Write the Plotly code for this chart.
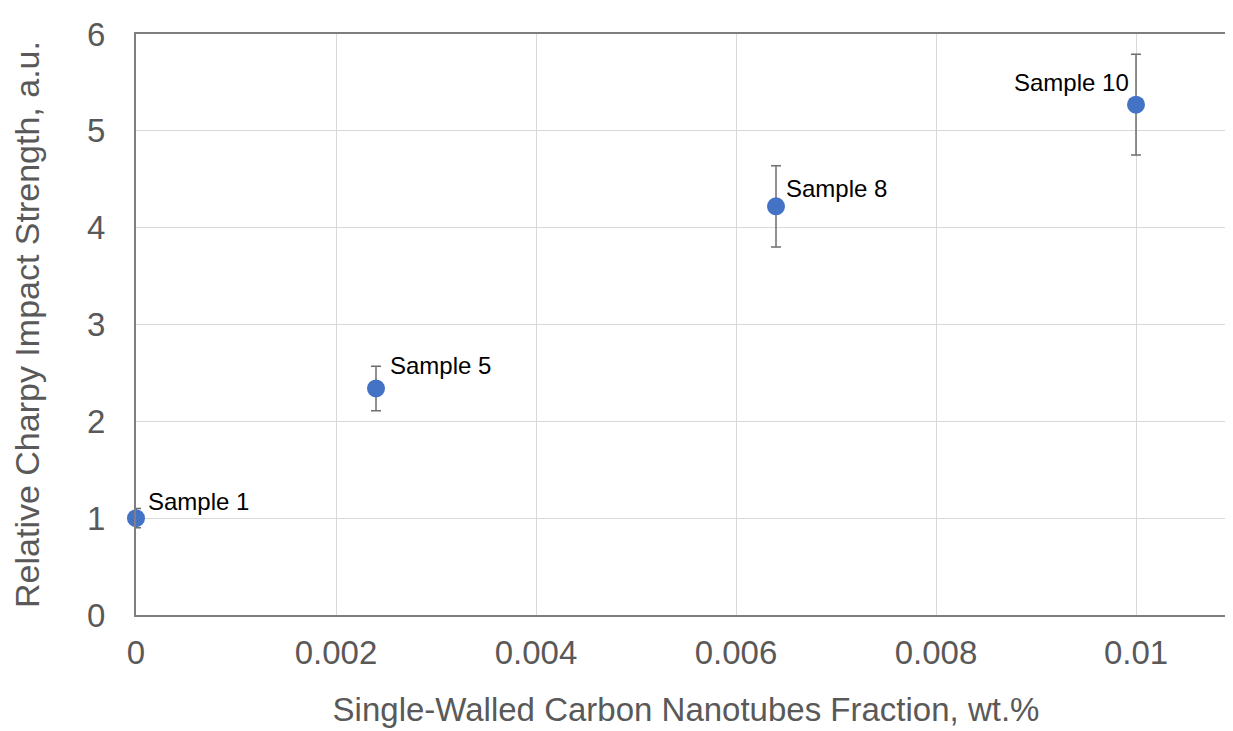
import plotly.graph_objects as go

# Data
fraction = [0.0, 0.0024, 0.0064, 0.01]
strength = [1.0, 2.34, 4.22, 5.27]
err = [0.1, 0.23, 0.42, 0.52]
labels = ["Sample 1", "Sample 5", "Sample 8", "Sample 10"]
x_ticks = [0, 0.002, 0.004, 0.006, 0.008, 0.01]
x_tick_text = ["0", "0.002", "0.004", "0.006", "0.008", "0.01"]
y_ticks = [0, 1, 2, 3, 4, 5, 6]

FONT = "Liberation Sans, Arial, sans-serif"

fig = go.Figure()
fig.add_trace(go.Scatter(
    x=fraction, y=strength, mode="markers",
    marker=dict(color="#4472C4", size=18),
    error_y=dict(type="data", array=err, visible=True, color="#6e6e6e",
                 thickness=1.5, width=5),
    showlegend=False, cliponaxis=False,
))

# label offsets (pixels) and anchors
offsets = [(10, 17, "left"), (12, 23, "left"), (8, 18, "left"), (-5, 22, "right")]
for x, y, t, (dx, dy, anc) in zip(fraction, strength, labels, offsets):
    fig.add_annotation(x=x, y=y, text=t, showarrow=False, xanchor=anc,
                       yanchor="middle", xshift=dx, yshift=dy,
                       font=dict(size=24, color="#000000", family=FONT))

axis_font = dict(family=FONT, size=33, color="#595959")
fig.update_layout(
    width=1233, height=731,
    margin=dict(l=128, r=5, t=26, b=124, autoexpand=False),
    paper_bgcolor="white", plot_bgcolor="white",
    font=dict(family=FONT),
    xaxis=dict(range=[0, 0.011], tickvals=x_ticks, ticktext=x_tick_text,
               showgrid=True, gridcolor="#d9d9d9", gridwidth=1,
               showline=True, linecolor="#7f7f7f", linewidth=2, mirror=True,
               zeroline=False, ticks="", tickfont=axis_font, automargin=False,
               ticklabelstandoff=7,
               title=dict(text="Single-Walled Carbon Nanotubes Fraction, wt.%",
                          font=dict(family=FONT, size=33, color="#595959"),
                          standoff=28)),
    yaxis=dict(range=[0, 6], tickvals=y_ticks,
               showgrid=True, gridcolor="#d9d9d9", gridwidth=1,
               showline=True, linecolor="#7f7f7f", linewidth=2, mirror=True,
               zeroline=False, ticks="", tickfont=axis_font, automargin=False,
               ticklabelstandoff=22,
               title=dict(text="Relative Charpy Impact Strength, a.u.",
                          font=dict(family=FONT, size=34, color="#595959"),
                          standoff=40)),
)
fig.write_html("out.html")
